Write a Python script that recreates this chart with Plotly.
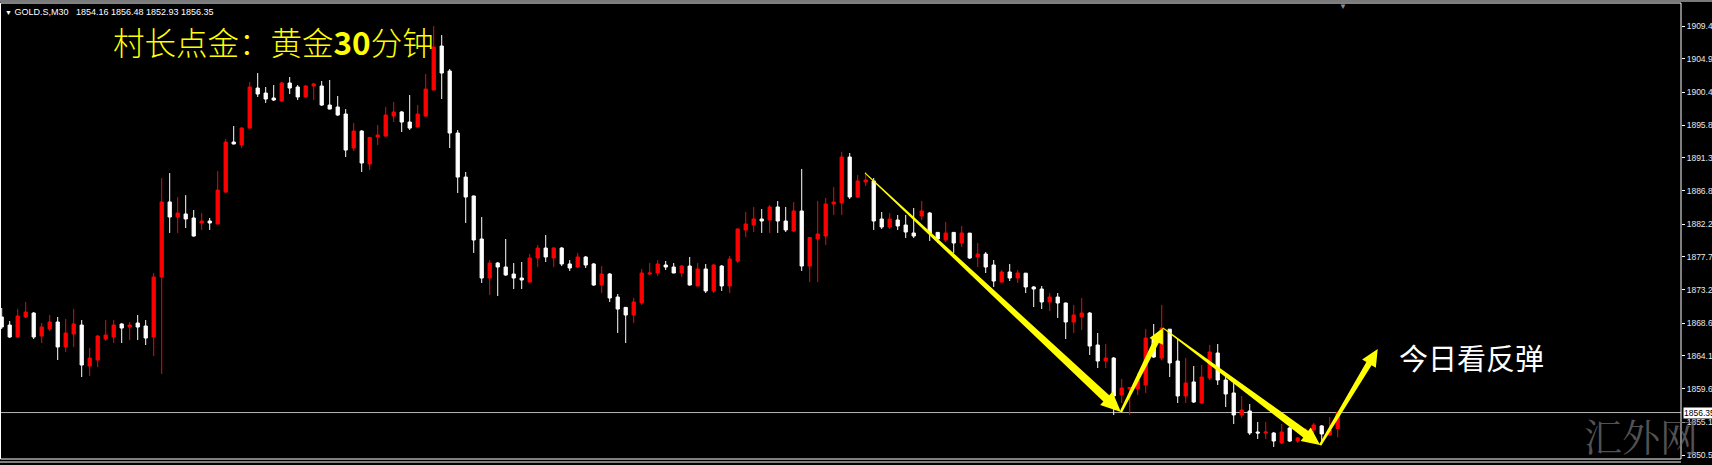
import math
import plotly.graph_objects as go

# ---------------- data (GOLD.S, M30) ----------------
opens = [1869.48, 1868.37, 1866.73, 1869.48, 1870.02, 1866.86, 1867.83, 1868.79, 1865.36, 1867.14,
         1868.37, 1862.74, 1863.57, 1866.45, 1866.73, 1868.51, 1868.10, 1868.65, 1868.24, 1866.73,
         1874.97, 1885.28, 1883.21, 1883.63, 1883.08, 1882.39, 1882.66, 1882.25, 1886.64, 1893.51,
         1893.10, 1895.43, 1900.93, 1900.24, 1899.56, 1899.14, 1901.62, 1901.07, 1899.70, 1901.21,
         1901.21, 1898.59, 1898.32, 1897.36, 1892.69, 1895.02, 1890.49, 1894.20, 1894.34, 1897.08,
         1897.64, 1896.26, 1895.57, 1897.08, 1900.66, 1906.70, 1903.27, 1894.75, 1888.70, 1886.10,
         1880.19, 1874.83, 1876.89, 1876.34, 1875.38, 1874.83, 1874.28, 1877.58, 1878.95, 1877.58,
         1878.95, 1876.76, 1876.34, 1877.72, 1876.76, 1873.87, 1875.38, 1872.22, 1870.80, 1869.75,
         1871.40, 1875.38, 1875.52, 1876.62, 1876.34, 1875.52, 1876.48, 1873.74, 1876.07, 1873.05,
         1876.48, 1873.74, 1877.17, 1881.43, 1882.11, 1882.94, 1882.80, 1884.59, 1882.66, 1881.29,
         1884.04, 1876.48, 1880.19, 1880.60, 1885.00, 1885.14, 1891.45, 1885.96, 1888.02, 1888.16,
         1882.94, 1881.84, 1882.80, 1882.11, 1881.02, 1883.35, 1883.76, 1881.10, 1880.05, 1881.10,
         1879.64, 1881.00, 1877.72, 1878.13, 1876.62, 1874.28, 1875.66, 1874.83, 1875.50, 1873.60,
         1873.32, 1871.54, 1872.22, 1871.40, 1868.79, 1869.48, 1870.02, 1865.63, 1863.43, 1863.84,
         1858.76, 1859.59, 1859.59, 1860.14, 1866.45, 1863.84, 1867.80, 1863.43, 1858.63, 1860.55,
         1857.66, 1861.09, 1864.53, 1860.82, 1859.04, 1856.02, 1856.56, 1853.68, 1853.54, 1853.54,
         1852.17, 1854.23, 1852.44, 1852.86, 1853.96, 1854.51, 1853.27, 1854.16]
highs = [1870.71, 1868.92, 1870.57, 1871.54, 1870.16, 1868.65, 1869.75, 1869.48, 1869.20, 1870.57,
         1869.06, 1865.22, 1867.00, 1869.06, 1869.06, 1868.65, 1868.79, 1869.75, 1869.06, 1875.52,
         1888.56, 1889.25, 1885.95, 1886.22, 1884.18, 1883.76, 1883.08, 1889.52, 1893.92, 1895.71,
         1895.57, 1901.76, 1902.99, 1901.07, 1901.34, 1901.76, 1902.44, 1901.34, 1901.34, 1901.62,
         1901.89, 1902.03, 1899.83, 1898.04, 1896.12, 1895.16, 1894.20, 1895.85, 1898.32, 1899.01,
         1897.77, 1899.97, 1898.59, 1902.86, 1909.45, 1908.21, 1903.54, 1895.16, 1889.39, 1886.15,
         1883.21, 1877.30, 1877.03, 1880.19, 1876.89, 1877.03, 1878.13, 1879.37, 1880.74, 1879.09,
         1879.09, 1877.30, 1878.27, 1877.86, 1876.89, 1876.48, 1875.52, 1872.63, 1870.85, 1872.09,
         1876.07, 1876.89, 1877.30, 1877.17, 1876.89, 1876.62, 1877.72, 1876.89, 1876.76, 1876.76,
         1876.62, 1877.86, 1881.70, 1883.90, 1884.59, 1884.31, 1884.86, 1885.41, 1884.59, 1885.27,
         1889.81, 1880.46, 1885.41, 1885.82, 1887.33, 1892.14, 1892.00, 1888.98, 1889.39, 1888.57,
         1883.90, 1883.76, 1883.49, 1883.49, 1884.45, 1885.41, 1883.90, 1881.15, 1882.53, 1881.15,
         1881.98, 1881.02, 1879.64, 1878.40, 1877.30, 1875.93, 1876.76, 1875.93, 1875.52, 1873.74,
         1873.74, 1872.77, 1872.77, 1871.45, 1871.13, 1872.09, 1870.16, 1867.28, 1865.77, 1863.98,
         1860.96, 1859.86, 1861.78, 1867.83, 1868.51, 1871.13, 1867.83, 1866.45, 1863.84, 1862.74,
         1862.88, 1865.63, 1865.77, 1861.23, 1860.41, 1858.63, 1857.53, 1855.06, 1855.06, 1853.68,
         1854.78, 1854.37, 1852.99, 1854.23, 1854.92, 1854.64, 1855.74, 1856.48]
lows = [1867.83, 1866.59, 1866.60, 1869.34, 1866.45, 1865.90, 1867.55, 1863.57, 1864.67, 1865.36,
        1861.23, 1861.37, 1862.60, 1866.18, 1865.90, 1865.90, 1866.31, 1866.31, 1865.63, 1864.12,
        1861.64, 1881.02, 1881.02, 1881.70, 1880.50, 1881.43, 1881.43, 1882.20, 1886.50, 1893.20,
        1892.69, 1895.40, 1899.70, 1898.87, 1899.14, 1899.00, 1900.11, 1899.28, 1899.65, 1899.28,
        1898.46, 1898.00, 1897.08, 1891.45, 1892.28, 1889.39, 1889.67, 1893.10, 1894.20, 1896.26,
        1894.89, 1895.16, 1895.50, 1896.94, 1900.60, 1899.42, 1892.69, 1886.50, 1882.39, 1878.27,
        1874.15, 1872.50, 1872.36, 1875.11, 1873.32, 1873.32, 1874.15, 1876.34, 1877.03, 1876.34,
        1876.48, 1875.80, 1876.21, 1876.21, 1873.74, 1872.77, 1871.54, 1867.28, 1865.90, 1868.65,
        1871.13, 1875.25, 1875.11, 1875.93, 1875.50, 1874.97, 1873.80, 1873.70, 1872.77, 1872.77,
        1873.05, 1872.77, 1876.89, 1880.46, 1881.15, 1881.02, 1881.02, 1881.02, 1881.15, 1881.15,
        1875.80, 1874.28, 1874.28, 1879.37, 1883.49, 1883.49, 1885.69, 1885.82, 1887.47, 1881.43,
        1881.56, 1881.56, 1881.43, 1880.33, 1880.33, 1882.80, 1879.92, 1879.64, 1879.78, 1878.27,
        1879.09, 1877.44, 1876.34, 1875.52, 1873.60, 1874.15, 1874.42, 1874.15, 1872.77, 1870.85,
        1870.57, 1870.30, 1869.34, 1866.45, 1867.28, 1867.69, 1864.26, 1862.47, 1862.47, 1856.02,
        1857.66, 1856.02, 1858.76, 1859.04, 1863.84, 1863.57, 1861.23, 1857.66, 1857.66, 1857.66,
        1857.53, 1860.82, 1860.14, 1857.11, 1854.78, 1855.60, 1853.27, 1852.72, 1852.72, 1851.62,
        1852.03, 1852.31, 1852.17, 1852.31, 1853.54, 1852.44, 1853.13, 1852.93]
closes = [1868.10, 1866.73, 1869.61, 1870.16, 1866.73, 1868.10, 1868.79, 1865.36, 1867.28, 1868.51,
          1862.88, 1863.84, 1866.86, 1867.00, 1868.37, 1867.96, 1868.37, 1868.10, 1866.59, 1874.97,
          1885.28, 1883.21, 1883.76, 1882.94, 1880.60, 1882.66, 1882.39, 1886.91, 1893.51, 1893.24,
          1895.43, 1901.07, 1900.11, 1899.42, 1899.28, 1901.62, 1900.93, 1899.70, 1901.21, 1901.48,
          1898.59, 1898.04, 1897.22, 1892.41, 1895.02, 1890.63, 1894.15, 1894.47, 1897.22, 1897.64,
          1896.26, 1895.43, 1897.36, 1900.79, 1906.57, 1902.99, 1894.75, 1888.70, 1885.96, 1880.05,
          1874.83, 1876.89, 1876.34, 1875.25, 1874.83, 1874.56, 1877.58, 1878.95, 1877.72, 1878.95,
          1876.76, 1876.21, 1877.72, 1876.62, 1873.87, 1875.38, 1872.09, 1870.57, 1869.75, 1871.54,
          1875.52, 1875.52, 1876.76, 1876.34, 1875.52, 1876.48, 1873.87, 1876.07, 1873.05, 1876.62,
          1873.74, 1877.44, 1881.56, 1882.25, 1882.94, 1882.66, 1884.59, 1882.66, 1881.43, 1884.04,
          1876.48, 1880.40, 1880.88, 1885.00, 1885.27, 1891.45, 1885.96, 1888.16, 1888.30, 1882.66,
          1881.84, 1882.94, 1881.98, 1881.15, 1880.60, 1884.04, 1881.02, 1880.19, 1881.02, 1879.64,
          1881.02, 1877.58, 1878.13, 1876.34, 1874.42, 1875.66, 1874.83, 1875.52, 1873.60, 1873.32,
          1871.54, 1872.22, 1871.40, 1868.79, 1869.75, 1870.02, 1865.49, 1863.43, 1863.84, 1858.63,
          1859.72, 1859.80, 1860.82, 1866.59, 1863.98, 1867.96, 1863.16, 1858.63, 1860.41, 1857.80,
          1861.23, 1864.67, 1860.82, 1858.90, 1856.02, 1856.70, 1853.54, 1853.54, 1853.68, 1852.44,
          1853.68, 1852.44, 1852.86, 1853.96, 1854.64, 1853.41, 1853.96, 1856.35]
bar_index = list(range(len(opens)))

# price-scale labels (right side)
tick_values = [1909.45, 1904.92, 1900.38, 1895.85, 1891.32, 1886.79, 1882.25,
               1877.72, 1873.19, 1868.65, 1864.12, 1859.59, 1855.05, 1850.52]
tick_labels = ["1909.45", "1904.92", "1900.41", "1895.85", "1891.32", "1886.81", "1882.25",
               "1877.72", "1873.21", "1868.65", "1864.12", "1859.61", "1855.10", "1850.52"]

symbol_header = "GOLD.S,M30"
last_ohlc = ["1854.16", "1856.48", "1852.93", "1856.35"]
current_price = 1856.35

title_text = "村长点金：黄金<b>30</b>分钟"
note_text = "今日看反弹"
watermark_text = "汇外网"

# hand-drawn arrow path: (bar index, price) waypoints
arrow_x = [107.9, 139.9, 145.15, 164.8, 172.0]
arrow_y = [1889.26, 1856.43, 1867.97, 1851.89, 1865.08]
# per segment: start width, end width, head length, head width (px)
arrow_style = [(1.0, 8.5, 20, 18), (2.5, 6.0, 15, 15), (1.0, 8.0, 18, 17), (2.5, 6.0, 17, 16)]

# ---------------- layout geometry ----------------
FIG_W, FIG_H = 1712, 465
M_L, M_R, M_T, M_B = 0, 31, 3, 6
PLOT_W = FIG_W - M_L - M_R
PLOT_H = FIG_H - M_T - M_B
X_RANGE = [-0.2125, 209.91]
Y_RANGE = [1849.97, 1912.61]


def to_px(x, y):
    return ((x - X_RANGE[0]) / (X_RANGE[1] - X_RANGE[0]) * PLOT_W,
            (Y_RANGE[1] - y) / (Y_RANGE[1] - Y_RANGE[0]) * PLOT_H)


def to_data(px, py):
    return (X_RANGE[0] + px / PLOT_W * (X_RANGE[1] - X_RANGE[0]),
            Y_RANGE[1] - py / PLOT_H * (Y_RANGE[1] - Y_RANGE[0]))


def arrow_path(p0, p1, w0, w1, hl, hw):
    x0, y0 = to_px(*p0)
    x1, y1 = to_px(*p1)
    dx, dy = x1 - x0, y1 - y0
    ln = math.hypot(dx, dy)
    ux, uy = dx / ln, dy / ln
    nx, ny = -uy, ux
    bx, by = x1 - ux * hl, y1 - uy * hl
    pts = [(x0 + nx * w0 / 2, y0 + ny * w0 / 2),
           (bx + nx * w1 / 2, by + ny * w1 / 2),
           (bx + nx * hw / 2, by + ny * hw / 2),
           (x1, y1),
           (bx - nx * hw / 2, by - ny * hw / 2),
           (bx - nx * w1 / 2, by - ny * w1 / 2),
           (x0 - nx * w0 / 2, y0 - ny * w0 / 2)]
    d = []
    for k, (px, py) in enumerate(pts):
        xx, yy = to_data(px, py)
        d.append(("M" if k == 0 else "L") + f"{xx:.4f},{yy:.4f}")
    return " ".join(d) + " Z"


def paper_x(px):
    return (px - M_L) / PLOT_W


def paper_y(py):
    return (FIG_H - M_B - py) / PLOT_H


# ---------------- figure ----------------
fig = go.Figure()
fig.add_trace(go.Candlestick(
    x=bar_index, open=opens, high=highs, low=lows, close=closes,
    increasing=dict(line=dict(color="#ff0000", width=1), fillcolor="#ff0000"),
    decreasing=dict(line=dict(color="#ffffff", width=1), fillcolor="#ffffff"),
    whiskerwidth=0, showlegend=False, hoverinfo="skip",
))

shapes = []
# current price line
shapes.append(dict(type="line", xref="paper", yref="y", x0=0, x1=1, y0=current_price, y1=current_price,
                   line=dict(color="#b8b8b8", width=1), layer="below"))
# arrows
for k in range(len(arrow_x) - 1):
    w0, w1, hl, hw = arrow_style[k]
    shapes.append(dict(type="path", xref="x", yref="y",
                       path=arrow_path((arrow_x[k], arrow_y[k]), (arrow_x[k + 1], arrow_y[k + 1]), w0, w1, hl, hw),
                       fillcolor="#ffff00", line=dict(width=0), layer="above"))
# window frame
shapes.append(dict(type="rect", xref="paper", yref="paper", x0=paper_x(0.5), x1=1, y0=0, y1=1,
                   line=dict(color="#ffffff", width=1), fillcolor="rgba(0,0,0,0)", layer="above"))
shapes.append(dict(type="line", xref="paper", yref="paper", x0=0, x1=1, y0=paper_y(462), y1=paper_y(462),
                   line=dict(color="#ffffff", width=1)))
shapes.append(dict(type="rect", xref="paper", yref="paper", x0=0, x1=paper_x(FIG_W), y0=paper_y(2), y1=paper_y(0),
                   line=dict(width=0), fillcolor="#7a7a7a"))

annotations = []
header = ("<span style='font-size:7px'>▼</span> " + symbol_header + "\u00a0\u00a0\u00a0"
          + " ".join(last_ohlc))
annotations.append(dict(xref="paper", yref="paper", x=paper_x(3), y=paper_y(12), xanchor="left", yanchor="middle",
                        text=header, showarrow=False,
                        font=dict(family="Liberation Sans, Arial", size=9, color="#ffffff")))
annotations.append(dict(xref="paper", yref="paper", x=paper_x(111), y=paper_y(41), xanchor="left", yanchor="middle",
                        text=title_text, showarrow=False,
                        font=dict(family="Noto Sans CJK SC", size=31.5, color="#ffff00", weight=300)))
annotations.append(dict(xref="paper", yref="paper", x=paper_x(1471), y=paper_y(357), xanchor="center", yanchor="middle",
                        text=note_text, showarrow=False,
                        font=dict(family="Noto Sans CJK SC", size=29, color="#ffffff")))
# current price box on the scale
annotations.append(dict(xref="paper", yref="y", x=1, y=current_price, xanchor="left", yanchor="middle",
                        xshift=2, text=f"{current_price:.2f}", showarrow=False, bgcolor="#ffffff", borderpad=0,
                        font=dict(family="Liberation Sans, Arial", size=8.5, color="#000000")))
# chart-shift marker
annotations.append(dict(xref="paper", yref="paper", x=paper_x(1343), y=paper_y(5), xanchor="center", yanchor="middle",
                        text="▼", showarrow=False, font=dict(size=8, color="#8c8c8c")))
# watermark
annotations.append(dict(xref="paper", yref="paper", x=paper_x(1641), y=paper_y(434), xanchor="center", yanchor="middle",
                        text=watermark_text, showarrow=False,
                        font=dict(family="Noto Serif CJK SC, Noto Sans CJK SC", size=38, color="rgba(110,110,110,0.75)")))

fig.update_layout(
    width=FIG_W, height=FIG_H, autosize=False,
    margin=dict(l=M_L, r=M_R, t=M_T, b=M_B, pad=0),
    paper_bgcolor="#000000", plot_bgcolor="#000000",
    boxgap=0.42,
    showlegend=False,
    shapes=shapes, annotations=annotations,
    xaxis=dict(range=X_RANGE, visible=False, automargin=False,
               rangeslider=dict(visible=False), fixedrange=True),
    yaxis=dict(range=Y_RANGE, side="right", automargin=False, showgrid=False, zeroline=False, showline=False,
               tickmode="array", tickvals=tick_values, ticktext=tick_labels,
               ticks="outside", ticklen=3, tickwidth=1, tickcolor="#ffffff", ticklabelstandoff=0,
               tickfont=dict(family="Liberation Sans, Arial", size=8.5, color="#e8e8e8"), fixedrange=True),
)

fig.write_html(
    "out.html",
    config={"displayModeBar": False, "responsive": False},
    post_script="document.body.style.margin='0';document.body.style.padding='0';"
                "document.body.style.background='#000';document.documentElement.style.overflow='hidden';",
)
